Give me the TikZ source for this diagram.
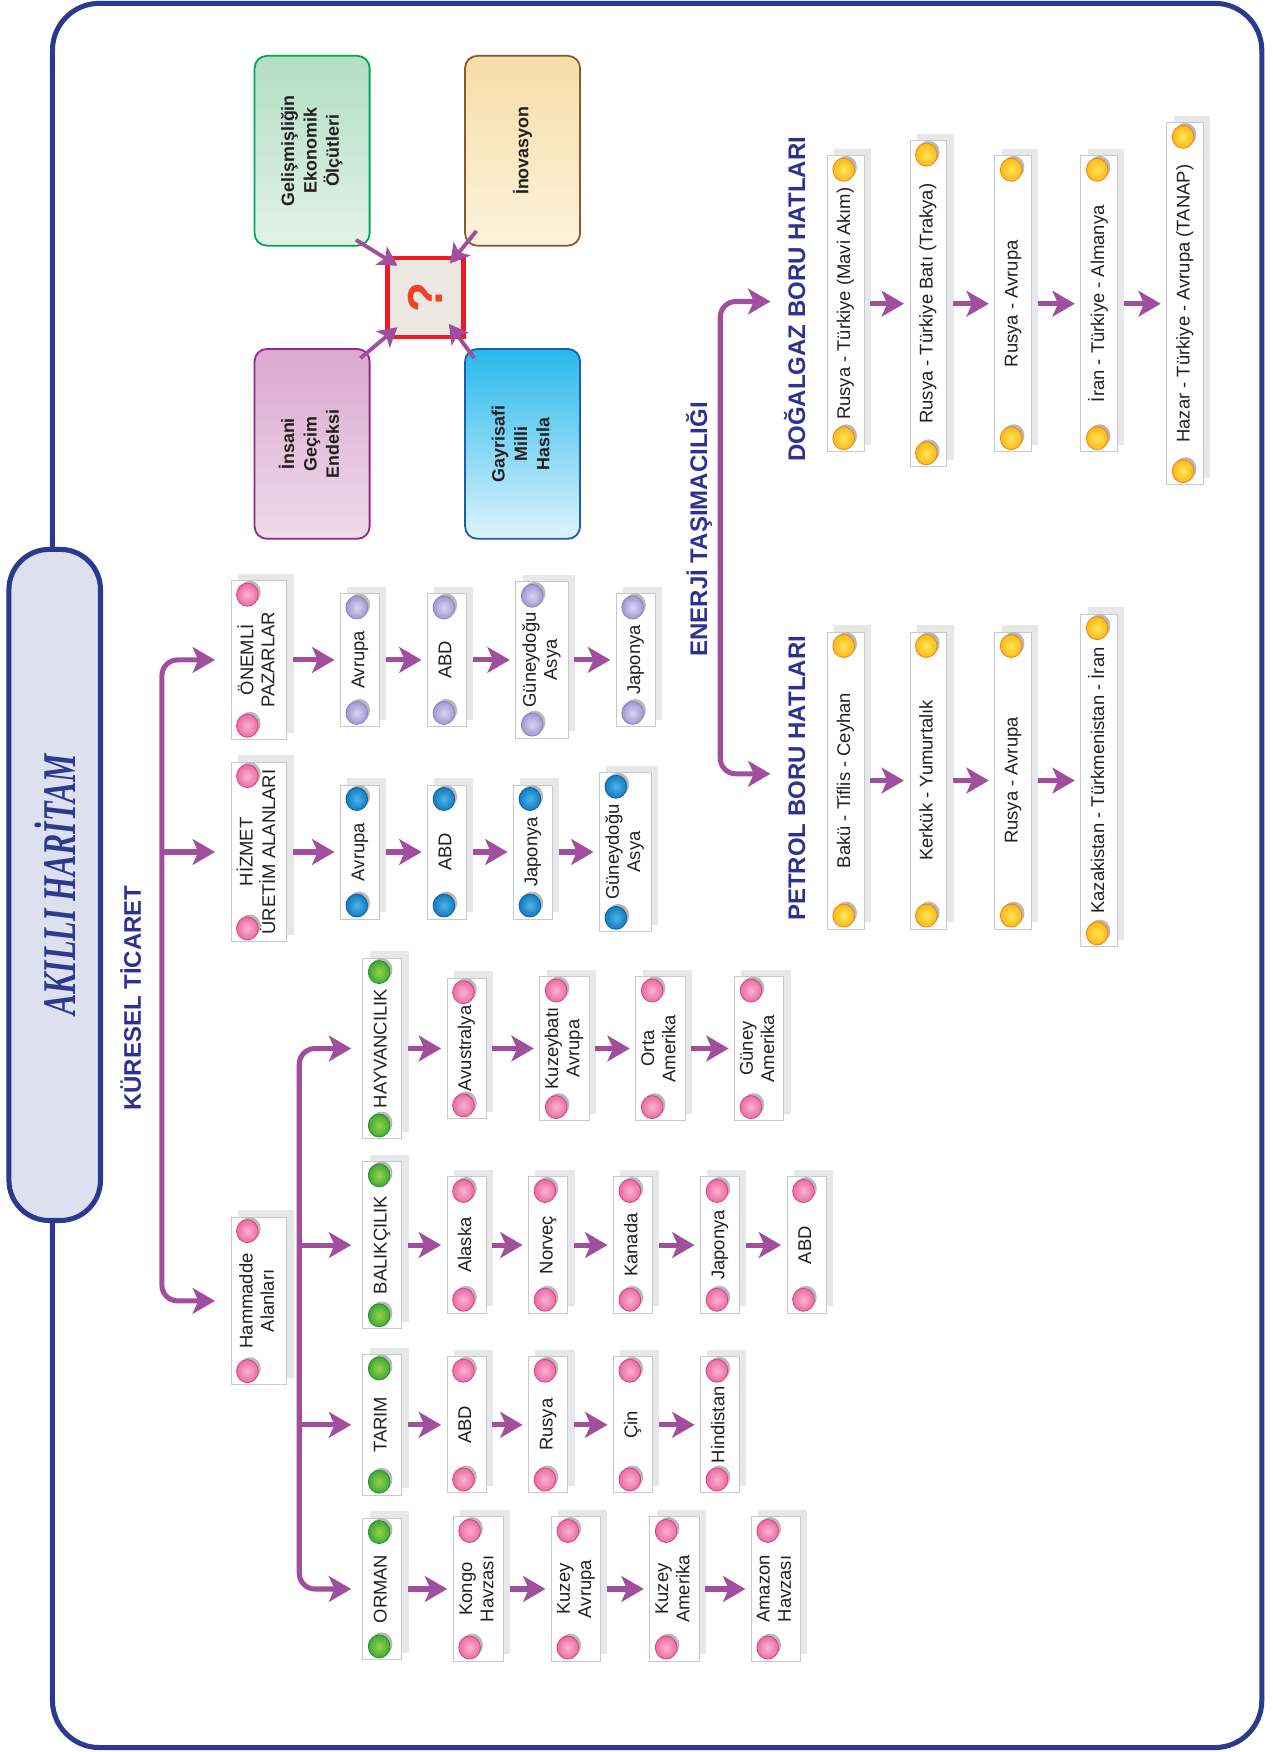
\documentclass[tikz,border=0pt]{standalone}
\usepackage{graphicx}
\usepackage{fontspec}
\setmainfont{Liberation Sans}
\newfontfamily\titlefont{Liberation Serif}
\usetikzlibrary{arrows.meta,calc}
\definecolor{navy}{HTML}{2B3990}
\definecolor{hblue}{HTML}{2E3192}
\definecolor{purp}{HTML}{A14E9F}
\definecolor{shgray}{HTML}{E6E7E8}
\definecolor{bxline}{HTML}{C8C9CB}
\definecolor{txt}{HTML}{231F20}
\definecolor{titlefill}{HTML}{DDE0EF}
\definecolor{pinkI}{HTML}{F9B3D2}\definecolor{pinkO}{HTML}{EC6BA3}\definecolor{pinkD}{HTML}{D5427F}
\definecolor{lavI}{HTML}{DAD5F0}\definecolor{lavO}{HTML}{A197D0}\definecolor{lavD}{HTML}{8C82C0}
\definecolor{bluI}{HTML}{4DB3E6}\definecolor{bluO}{HTML}{137BC2}\definecolor{bluD}{HTML}{0E5F9E}
\definecolor{grnI}{HTML}{9BD04A}\definecolor{grnO}{HTML}{3DAA38}\definecolor{grnD}{HTML}{2B8B2E}
\definecolor{yelI}{HTML}{FFE55C}\definecolor{yelO}{HTML}{FDBA12}\definecolor{yelD}{HTML}{F07F1E}
\definecolor{gTop}{HTML}{B2DEC3}\definecolor{gBot}{HTML}{E3F2E8}\definecolor{gLine}{HTML}{00A651}
\definecolor{tTop}{HTML}{F7DDA8}\definecolor{tBot}{HTML}{FCF3DC}\definecolor{tLine}{HTML}{8B5A2B}
\definecolor{mTop}{HTML}{DBA8CF}\definecolor{mBot}{HTML}{EEDBEA}\definecolor{mLine}{HTML}{92278F}
\definecolor{cTop}{HTML}{27B9EC}\definecolor{cBot}{HTML}{DDF3FC}\definecolor{cLine}{HTML}{1B5EAB}
\definecolor{qFill}{HTML}{ECE7E0}\definecolor{qLine}{HTML}{ED1C24}\definecolor{qText}{HTML}{EF4123}

\tikzset{
  bigtip/.tip={Stealth[length=20pt,width=23pt,inset=5pt]},
  smalltip/.tip={Stealth[length=17pt,width=19pt,inset=4pt]},
  cbx/.style={draw=bxline, line width=0.9pt, fill=white, inner sep=0pt, text=txt,
    font=\fontsize{16.5}{19}\selectfont},
  shadowbox/.style={fill=shgray},
  parr/.style={draw=purp, line width=4.5pt, -bigtip},
  trunk/.style={draw=purp, line width=4.5pt, rounded corners=14pt, bigtip-bigtip},
  qarr/.style={draw=purp, line width=3.5pt, -smalltip},
  pinkball/.style={inner color=pinkI, outer color=pinkO, draw=pinkD},
  lavball/.style={inner color=lavI, outer color=lavO, draw=lavD},
  bluball/.style={inner color=bluI, outer color=bluO, draw=bluD},
  grnball/.style={inner color=grnI, outer color=grnO, draw=grnD},
  yelball/.style={inner color=yelI, outer color=yelO, draw=yelD},
  head/.style={text=hblue, font=\bfseries\fontsize{21.5}{24}\selectfont, inner sep=0pt},
  cat/.style={rounded corners=11pt, line width=1.6pt, inner sep=0pt,
    minimum width=103pt, minimum height=170pt,
    font=\bfseries\fontsize{16}{20}\selectfont, text=txt},
}

\newcommand{\ballat}[2]{%
  \fill[black!28] #2 ++(2.2,-2.2) ellipse [x radius=9.7pt, y radius=10.3pt];
  \shadedraw[#1, line width=0.7pt] #2 ellipse [x radius=9.7pt, y radius=10.3pt];
}
\newcommand{\cb}[7]{%
  \fill[shadowbox] ($(#2,#3)+({6-#4/2},{-6-#5/2})$) rectangle ($(#2,#3)+({6+#4/2},{-6+#5/2})$);
  \node[cbx, minimum width=#4pt, minimum height=#5pt] (#1) at (#2,#3)
    {\rotatebox{90}{\begin{tabular}{@{}c@{}}#7\end{tabular}}};
  \ballat{#6}{($(#1.north west)+(15,13)$)}
  \ballat{#6}{($(#1.south west)+(15,-12.5)$)}
}
\newcommand{\ar}[2]{\draw[parr] ($(#1.east)+(5,0)$) -- ($(#2.west)+(-5,0)$);}

\begin{document}
\begin{tikzpicture}[x=1pt,y=-1pt]
\useasboundingbox (0,0) rectangle (1140,1569);

% outer frame
\draw[navy, line width=4.5pt, rounded corners=42pt] (47,3) rectangle (1130,1565);

% title
\node[draw=navy, line width=4.5pt, fill=titlefill, rounded corners=36pt,
  minimum width=82pt, minimum height=601pt, inner sep=0pt, text=navy] (title) at (49,792.5)
  {\rotatebox{90}{\scalebox{0.68}[1]{\titlefont\bfseries\itshape\fontsize{42}{44}\selectfont AKILLI HARİTAM}}};

% headings
\node[head, rotate=90] (kur) at (117,894) {KÜRESEL TİCARET};
\node[head, rotate=90] (ener) at (626,474) {ENERJİ TAŞIMACILIĞI};
\node[head, rotate=90, anchor=base] (dog) at (721,268) {DOĞALGAZ BORU HATLARI};
\node[head, rotate=90, anchor=base] (pet) at (721,697) {PETROL BORU HATLARI};

% top category boxes
\node[cat, top color=gTop, bottom color=gBot, draw=gLine] (gel) at (279.5,135)
  {\rotatebox{90}{\begin{tabular}{@{}c@{}}Gelişmişliğin\\Ekonomik\\Ölçütleri\end{tabular}}};
\node[cat, top color=tTop, bottom color=tBot, draw=tLine] (ino) at (468,135)
  {\rotatebox{90}{İnovasyon}};
\node[cat, top color=mTop, bottom color=mBot, draw=mLine] (ins) at (279.5,397.5)
  {\rotatebox{90}{\begin{tabular}{@{}c@{}}İnsani\\Geçim\\Endeksi\end{tabular}}};
\node[cat, top color=cTop, bottom color=cBot, draw=cLine] (gay) at (468,397.5)
  {\rotatebox{90}{\begin{tabular}{@{}c@{}}Gayrisafi\\Milli\\Hasıla\end{tabular}}};
\node[draw=qLine, fill=qFill, line width=4pt, minimum width=68pt, minimum height=71pt,
  inner sep=0pt, text=qText, font=\bfseries\fontsize{44}{46}\selectfont] (q) at (381,266.5)
  {\rotatebox{90}{?}};
\draw[qarr] ($(gel.south east)+(-13,-6)$) -- ($(q.north west)+(11,9)$);
\draw[qarr] ($(ino.south west)+(11,-14)$) -- ($(q.north east)+(-14,7)$);
\draw[qarr] ($(ins.north east)+(-9,9)$) -- ($(q.south west)+(11,-11)$);
\draw[qarr] ($(gay.north west)+(9,9)$) -- ($(q.south east)+(-15,-14)$);

% level 1 boxes
\cb{onem}{232}{591}{50}{142}{pinkball}{ÖNEMLİ\\PAZARLAR}
\cb{hizm}{232}{763}{50}{161}{pinkball}{HİZMET\\ÜRETİM ALANLARI}
\cb{hamm}{232}{1165}{50}{150}{pinkball}{Hammadde\\Alanları}

\coordinate (ktr) at (145,0);
\draw[trunk] ($(onem.west)+(-14,0)$) -- (onem.west -| ktr) -- (hamm.west -| ktr) -- ($(hamm.west)+(-14,0)$);
\draw[parr] (hizm.west -| ktr) -- ($(hizm.west)+(-14,0)$);

% Onemli pazarlar chain
\cb{oA}{322.5}{591}{35}{119}{lavball}{Avrupa}
\cb{oB}{400.5}{591}{35}{119}{lavball}{ABD}
\cb{oC}{485.5}{591}{47}{140}{lavball}{Güneydoğu\\Asya}
\cb{oD}{569.5}{591}{35}{119}{lavball}{Japonya}
\ar{onem}{oA}\ar{oA}{oB}\ar{oB}{oC}\ar{oC}{oD}

% Hizmet chain
\cb{hA}{322.5}{763}{35}{120}{bluball}{Avrupa}
\cb{hB}{400.5}{763}{35}{120}{bluball}{ABD}
\cb{hC}{477.5}{763}{35}{120}{bluball}{Japonya}
\cb{hD}{560}{763}{46}{142}{bluball}{Güneydoğu\\Asya}
\ar{hizm}{hA}\ar{hA}{hB}\ar{hB}{hC}\ar{hC}{hD}

% Hammadde branches
\cb{hay}{342.5}{939}{35}{162}{grnball}{HAYVANCILIK}
\cb{bal}{342.5}{1115}{35}{150}{grnball}{BALIKÇILIK}
\cb{tar}{342.5}{1276}{35}{126}{grnball}{TARIM}
\cb{orm}{342.5}{1423}{35}{127}{grnball}{ORMAN}
\coordinate (htr) at (268,0);
\draw[trunk] ($(hay.west)+(-10,0)$) -- (hay.west -| htr) -- (orm.west -| htr) -- ($(orm.west)+(-10,0)$);
\draw[parr] (bal.west -| htr) -- ($(bal.west)+(-10,0)$);
\draw[parr] (tar.west -| htr) -- ($(tar.west)+(-10,0)$);

% Hayvancilik chain
\cb{yA}{418}{939}{35}{126}{pinkball}{Avustralya}
\cb{yB}{505.5}{939}{44}{129}{pinkball}{Kuzeybatı\\Avrupa}
\cb{yC}{591.5}{939}{44}{129}{pinkball}{Orta\\Amerika}
\cb{yD}{680}{939}{44}{129}{pinkball}{Güney\\Amerika}
\ar{hay}{yA}\ar{yA}{yB}\ar{yB}{yC}\ar{yC}{yD}

% Balikcilik chain
\cb{bA}{418}{1115}{35}{122}{pinkball}{Alaska}
\cb{bB}{491}{1115}{35}{122}{pinkball}{Norveç}
\cb{bC}{567}{1115}{35}{122}{pinkball}{Kanada}
\cb{bD}{645}{1115}{35}{122}{pinkball}{Japonya}
\cb{bE}{722.5}{1115}{35}{122}{pinkball}{ABD}
\ar{bal}{bA}\ar{bA}{bB}\ar{bB}{bC}\ar{bC}{bD}\ar{bD}{bE}

% Tarim chain
\cb{tA}{418}{1276}{35}{122}{pinkball}{ABD}
\cb{tB}{491}{1276}{35}{122}{pinkball}{Rusya}
\cb{tC}{567}{1276}{35}{122}{pinkball}{Çin}
\cb{tD}{645}{1276}{35}{122}{pinkball}{Hindistan}
\ar{tar}{tA}\ar{tA}{tB}\ar{tB}{tC}\ar{tC}{tD}

% Orman chain
\cb{rA}{428.5}{1423}{45}{129}{pinkball}{Kongo\\Havzası}
\cb{rB}{516}{1423}{44}{129}{pinkball}{Kuzey\\Avrupa}
\cb{rC}{604}{1423}{44}{129}{pinkball}{Kuzey\\Amerika}
\cb{rD}{695}{1423}{44}{129}{pinkball}{Amazon\\Havzası}
\ar{orm}{rA}\ar{rA}{rB}\ar{rB}{rC}\ar{rC}{rD}

% Energy
\coordinate (etr) at (645,0);
\coordinate (dtip) at ($(dog.base)+(-31,2)$);
\coordinate (ptip) at ($(pet.base)+(-31,-4)$);
\draw[trunk] (dtip) -- (dtip -| etr) -- (ptip -| etr) -- (ptip);

\cb{dA}{757.5}{272}{33}{265}{yelball}{Rusya - Türkiye (Mavi Akım)}
\cb{dB}{831.5}{272}{33}{292}{yelball}{Rusya - Türkiye Batı (Trakya)}
\cb{dC}{907.5}{272}{33}{265}{yelball}{Rusya - Avrupa}
\cb{dD}{984.5}{272}{33}{265}{yelball}{İran - Türkiye - Almanya}
\cb{dE}{1061.5}{272}{33}{324}{yelball}{Hazar - Türkiye - Avrupa (TANAP)}
\ar{dA}{dB}\ar{dB}{dC}\ar{dC}{dD}\ar{dD}{dE}

\cb{pA}{757.5}{699}{33}{266}{yelball}{Bakü - Tiflis - Ceyhan}
\cb{pB}{831.5}{699}{33}{266}{yelball}{Kerkük - Yumurtalık}
\cb{pC}{907.5}{699}{33}{266}{yelball}{Rusya - Avrupa}
\cb{pD}{984.5}{699}{33}{298}{yelball}{Kazakistan - Türkmenistan - İran}
\ar{pA}{pB}\ar{pB}{pC}\ar{pC}{pD}

\end{tikzpicture}
\end{document}
